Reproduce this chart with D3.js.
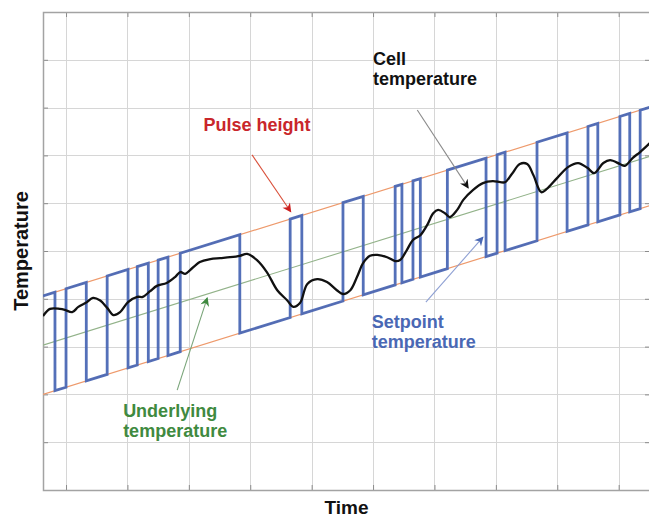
<!DOCTYPE html>
<html>
<head>
<meta charset="utf-8">
<script src="https://cdn.jsdelivr.net/npm/d3@7/dist/d3.min.js"></script>
<style>
  html, body { margin: 0; padding: 0; background: #fff; }
  svg { display: block; }
  text { font-family: "Liberation Sans", Arial, sans-serif; font-weight: bold; }
</style>
</head>
<body>
<svg id="chart" width="649" height="519"></svg>
<script>
// ---------------- DATA ----------------
const timeDomain = [-3.75, 95.1];
const tempDomain = [0, 100];
const timeTicks = [0, 10, 20, 30, 40, 50, 60, 70, 80, 90];
const tempTicks = [0, 10, 20, 30, 40, 50, 60, 70, 80, 90, 100];

// underlying temperature (straight ramp): [time, temp]
const underlyingTemp = [[-3.75, 30.3], [95.1, 69.8]];
const pulseHeight = 10.3;

// setpoint switching times (starts high, toggles at each time)
const setpointSwitchTimes = [-1.8, 0.0, 3.3, 6.7, 10.1, 11.6, 13.4, 15.0, 16.6, 18.6,
  28.3, 36.5, 38.4, 45.1, 48.4, 53.6, 54.7, 56.5, 57.7, 62.1,
  68.4, 70.2, 71.5, 76.7, 81.6, 85.0, 86.6, 90.2, 91.8, 93.5];

// measured cell temperature
const cellTime = [-3.75, -2.6, -1.0, -0.2, 1.0, 2.0, 3.4, 4.4, 5.5, 6.7, 7.7, 8.8, 10.1, 11.6, 12.5,
  13.7, 14.8, 16.4, 17.8, 18.6, 19.4, 20.2, 21.8, 23.5, 25.1, 26.7, 28.3, 29.5, 31.1, 32.7,
  34.4, 36.0, 37.0, 38.1, 39.3, 40.9, 42.5, 44.1, 45.1, 46.3, 47.4, 48.4, 49.5, 50.7, 52.3,
  53.6, 54.4, 55.5, 56.5, 57.7, 58.8, 59.8, 60.6, 61.7, 62.5, 63.7, 64.7, 66.3, 67.9, 69.5,
  70.7, 71.5, 72.6, 73.9, 75.1, 76.1, 77.4, 78.3, 80.0, 81.8, 83.4, 84.9, 86.0, 87.5, 88.6,
  90.2, 91.0, 92.3, 93.5, 95.1];
const cellTemp = [36.4, 37.9, 37.9, 37.7, 37.2, 38.3, 39.3, 40.2, 39.7, 38.1, 36.6, 37.2, 39.3, 40.4, 40.4,
  41.6, 42.7, 43.3, 44.6, 45.6, 45.2, 46.0, 47.7, 48.3, 48.5, 48.7, 49.0, 49.4, 48.1, 45.6,
  41.8, 39.7, 38.3, 39.1, 43.1, 44.1, 43.5, 41.8, 41.0, 41.8, 44.6, 47.5, 49.0, 49.2, 48.7,
  47.9, 48.1, 50.2, 52.3, 53.3, 55.4, 57.9, 58.6, 57.9, 57.1, 58.6, 60.7, 62.8, 64.2, 64.6,
  64.4, 64.4, 66.1, 68.2, 68.2, 65.9, 62.3, 63.0, 65.3, 67.6, 68.4, 67.4, 66.3, 68.4, 69.0,
  68.2, 67.8, 69.5, 70.7, 72.6];

// annotations: label lines, text anchor point [time, temp], arrow from -> to
const annotations = [
  { lines: ["Pulse height"], at: [31.1, 75.1], anchor: "middle", color: "#c9262b",
    from: [30.3, 70.1], to: [36.6, 58.2], lineColor: "#d9503a", headColor: "#cc1f1f" },
  { lines: ["Cell", "temperature"], at: [50.0, 88.9], anchor: "start", color: "#111111",
    from: [57.2, 79.5], to: [65.5, 63.2], lineColor: "#8a8a8a", headColor: "#111111" },
  { lines: ["Underlying", "temperature"], at: [9.3, 15.3], anchor: "start", color: "#3f8a40",
    from: [18.1, 20.9], to: [23.0, 40.2], lineColor: "#7aa57a", headColor: "#3f8a40" },
  { lines: ["Setpoint", "temperature"], at: [49.8, 33.9], anchor: "start", color: "#4a68b4",
    from: [58.6, 39.3], to: [67.9, 52.9], lineColor: "#8d9fd3", headColor: "#4a68b4" }
];

// ---------------- DRAW ----------------
const plot = { left: 43, top: 12, right: 650, bottom: 490 };
const svg = d3.select("#chart");

const x = d3.scaleLinear().domain(timeDomain).range([plot.left, plot.right]);
const y = d3.scaleLinear().domain(tempDomain).range([plot.bottom, plot.top]);

const underlying = d3.scaleLinear()
  .domain(underlyingTemp.map(d => d[0]))
  .range(underlyingTemp.map(d => d[1]));

// grid
const grid = svg.append("g");
grid.selectAll(".vg").data(timeTicks).join("line")
  .attr("x1", d => Math.round(x(d)) + 0.5).attr("x2", d => Math.round(x(d)) + 0.5)
  .attr("y1", plot.top).attr("y2", plot.bottom)
  .attr("stroke", "#d6d6d6").attr("stroke-width", 1);
grid.selectAll(".hg").data(tempTicks.slice(1, -1)).join("line")
  .attr("y1", d => Math.round(y(d)) + 0.5).attr("y2", d => Math.round(y(d)) + 0.5)
  .attr("x1", plot.left).attr("x2", plot.right)
  .attr("stroke", "#d6d6d6").attr("stroke-width", 1);

// axes (inward ticks, no labels) on all four sides
const tickColor = "#8c8c8c";
function styleAxis(g) {
  g.selectAll("text").remove();
  g.select(".domain").remove();
  g.selectAll(".tick line").attr("stroke", tickColor);
}
svg.append("g").attr("transform", `translate(0,${plot.bottom})`)
  .call(d3.axisBottom(x).tickValues(timeTicks).tickSize(-5)).call(styleAxis);
svg.append("g").attr("transform", `translate(0,${plot.top})`)
  .call(d3.axisTop(x).tickValues(timeTicks).tickSize(-5)).call(styleAxis);
svg.append("g").attr("transform", `translate(${plot.left},0)`)
  .call(d3.axisLeft(y).tickValues(tempTicks.slice(1, -1)).tickSize(-5)).call(styleAxis);
svg.append("g").attr("transform", `translate(${plot.right},0)`)
  .call(d3.axisRight(y).tickValues(tempTicks.slice(1, -1)).tickSize(-5)).call(styleAxis);

// frame
svg.append("rect")
  .attr("x", plot.left + 0.5).attr("y", plot.top + 0.5)
  .attr("width", plot.right - plot.left).attr("height", plot.bottom - plot.top)
  .attr("fill", "none").attr("stroke", "#a3a3a3").attr("stroke-width", 1.5);

svg.append("clipPath").attr("id", "clip").append("rect")
  .attr("x", plot.left).attr("y", plot.top)
  .attr("width", plot.right - plot.left).attr("height", plot.bottom - plot.top);
const layer = svg.append("g").attr("clip-path", "url(#clip)");

const line = d3.line().x(d => x(d[0])).y(d => y(d[1]));

// band lines (pulse envelope) and ramp
const bandUpper = timeDomain.map(t => [t, underlying(t) + pulseHeight]);
const bandLower = timeDomain.map(t => [t, underlying(t) - pulseHeight]);
const ramp = timeDomain.map(t => [t, underlying(t)]);

// setpoint square wave
const setpoint = [];
let high = true;
setpoint.push([timeDomain[0], underlying(timeDomain[0]) + pulseHeight]);
setpointSwitchTimes.forEach(t => {
  const u = underlying(t);
  setpoint.push([t, u + (high ? pulseHeight : -pulseHeight)]);
  high = !high;
  setpoint.push([t, u + (high ? pulseHeight : -pulseHeight)]);
});
setpoint.push([timeDomain[1], underlying(timeDomain[1]) + (high ? pulseHeight : -pulseHeight)]);

layer.append("path").datum(ramp).attr("d", line)
  .attr("fill", "none").attr("stroke", "#93b38a").attr("stroke-width", 1.1);

[bandUpper, bandLower].forEach(b => {
  layer.append("path").datum(b).attr("d", line)
    .attr("fill", "none").attr("stroke", "#ee9a6c").attr("stroke-width", 1.2);
});

layer.append("path").datum(setpoint).attr("d", line)
  .attr("fill", "none").attr("stroke", "#4b68b5").attr("stroke-width", 2.8)
  .attr("stroke-linejoin", "miter").attr("opacity", 0.95);

// cell temperature
const cell = cellTime.map((t, i) => [t, cellTemp[i]]);
layer.append("path").datum(cell)
  .attr("d", d3.line().x(d => x(d[0])).y(d => y(d[1])).curve(d3.curveCatmullRom.alpha(0.5)))
  .attr("fill", "none").attr("stroke", "#111").attr("stroke-width", 2.3)
  .attr("stroke-linejoin", "round");

// annotations
const defs = svg.append("defs");
annotations.forEach((a, i) => {
  defs.append("marker").attr("id", "head" + i)
    .attr("viewBox", "0 0 10 10").attr("refX", 9).attr("refY", 5)
    .attr("markerWidth", 11).attr("markerHeight", 9).attr("markerUnits", "userSpaceOnUse")
    .attr("orient", "auto")
    .append("path").attr("d", "M0,0 L10,5 L0,10 L3,5 Z").attr("fill", a.headColor);
  svg.append("line")
    .attr("x1", x(a.from[0])).attr("y1", y(a.from[1]))
    .attr("x2", x(a.to[0])).attr("y2", y(a.to[1]))
    .attr("stroke", a.lineColor).attr("stroke-width", 1.1)
    .attr("marker-end", `url(#head${i})`);
  const t = svg.append("text")
    .attr("x", x(a.at[0])).attr("y", y(a.at[1]))
    .attr("text-anchor", a.anchor).attr("fill", a.color)
    .style("font-size", "18px");
  a.lines.forEach((l, j) => {
    t.append("tspan").attr("x", x(a.at[0])).attr("dy", j === 0 ? 0 : "1.1em").text(l);
  });
});

// axis titles
svg.append("text")
  .attr("x", (plot.left + plot.right) / 2).attr("y", plot.bottom + 24)
  .attr("text-anchor", "middle").attr("fill", "#111").style("font-size", "19px")
  .text("Time");
svg.append("text")
  .attr("transform", `translate(28,${(plot.top + plot.bottom) / 2}) rotate(-90)`)
  .attr("text-anchor", "middle").attr("fill", "#111").style("font-size", "20px")
  .text("Temperature");
</script>
</body>
</html>
